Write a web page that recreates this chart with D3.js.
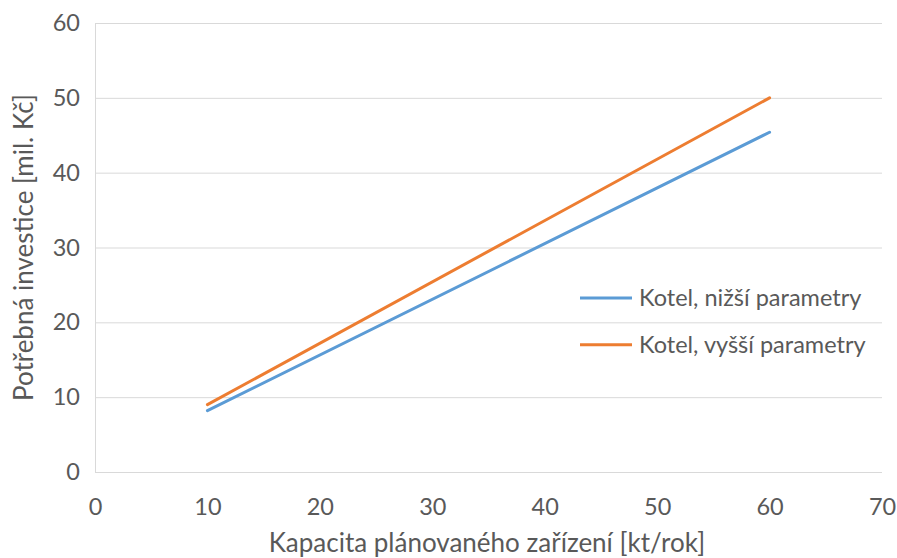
<!DOCTYPE html>
<html><head><meta charset="utf-8">
<script src="https://cdn.jsdelivr.net/npm/d3@7"></script>
<style>body{margin:0;background:#fff}svg{display:block}text{font-family:Lato,"Open Sans",sans-serif;fill:#595959}</style>
</head><body><svg id="c" width="897" height="558"></svg>
<script>
const xValues = [10, 60];
const seriesNames = ["Kotel, nižší parametry", "Kotel, vyšší parametry"];
const lowerParams = [8.2, 45.4];
const higherParams = [9.0, 50.0];
const colors = ["#5b9bd5", "#ed7d31"];
const xTicks = [0, 10, 20, 30, 40, 50, 60, 70];
const yTicks = [0, 10, 20, 30, 40, 50, 60];
const xTitle = "Kapacita plánovaného zařízení [kt/rok]";
const yTitle = "Potřebná investice [mil. Kč]";

const svg = d3.select("#c");
const x = d3.scaleLinear().domain([0, 70]).range([95, 882]);
const y = d3.scaleLinear().domain([0, 60]).range([472, 23]);

// gridlines
svg.append("g").selectAll("line").data(yTicks).join("line")
  .attr("x1", x(0)).attr("x2", x(70))
  .attr("y1", d => y(d) + 0.5).attr("y2", d => y(d) + 0.5)
  .attr("stroke", "#d9d9d9").attr("stroke-width", 1);
svg.append("line").attr("x1", x(0) + 0.5).attr("x2", x(0) + 0.5)
  .attr("y1", y(0)).attr("y2", y(60)).attr("stroke", "#d9d9d9");

// axes labels
const yAxis = d3.axisLeft(y).tickValues(yTicks).tickSize(0).tickPadding(15);
const gy = svg.append("g").attr("transform", `translate(${x(0)},0)`).call(yAxis);
gy.select(".domain").remove();
gy.selectAll("text").style("font-size", "23.5px").attr("fill", "#595959").attr("font-family", "Lato, sans-serif");

const xAxis = d3.axisBottom(x).tickValues(xTicks).tickSize(0).tickPadding(26);
const gx = svg.append("g").attr("transform", `translate(0,${y(0)})`).call(xAxis);
gx.select(".domain").remove();
gx.selectAll("text").style("font-size", "23.5px").attr("fill", "#595959").attr("font-family", "Lato, sans-serif");

svg.append("text").attr("x", 487).attr("y", 552)
  .attr("text-anchor", "middle").style("font-size", "26px").text(xTitle);
svg.append("text").attr("transform", `translate(33,${(y(0) + y(60)) / 2}) rotate(-90)`)
  .attr("text-anchor", "middle").style("font-size", "26px").text(yTitle);

// lines
const series = [lowerParams, higherParams];
const line = d3.line().x((d, i) => x(xValues[i])).y(d => y(d));
series.forEach((s, k) => {
  svg.append("path").datum(s).attr("d", line).attr("fill", "none")
    .attr("stroke", colors[k]).attr("stroke-width", 3).attr("stroke-linecap", "round");
});

// legend
const legY = [23.25, 17.0];
seriesNames.forEach((n, k) => {
  const ly = y(legY[k]);
  svg.append("line").attr("x1", 580).attr("x2", 632).attr("y1", ly).attr("y2", ly)
    .attr("stroke", colors[k]).attr("stroke-width", 3);
  svg.append("text").attr("x", 639).attr("y", ly).attr("dy", "0.35em")
    .style("font-size", "23.5px").text(n);
});
</script></body></html>
